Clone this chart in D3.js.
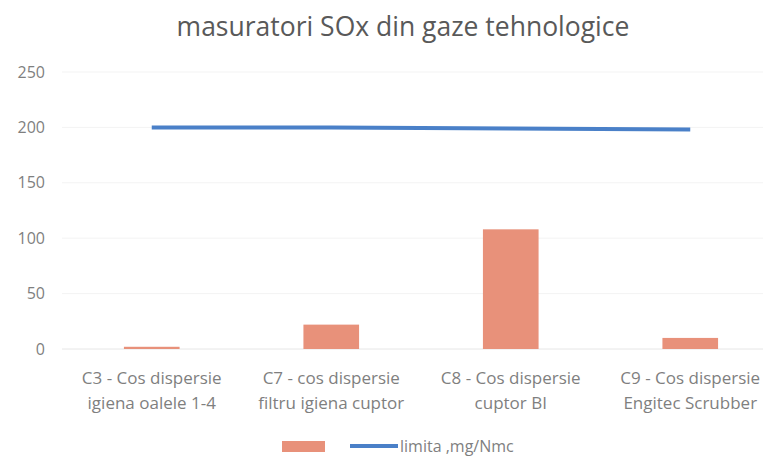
<!DOCTYPE html>
<html>
<head>
<meta charset="utf-8">
<script src="https://cdn.jsdelivr.net/npm/d3@7"></script>
<style>
  body { margin: 0; background: #fff; }
  svg { display: block; font-family: "Open Sans", "Noto Sans", sans-serif; }
</style>
</head>
<body>
<div id="chart"></div>
<script>
const categories = [
  ["C3 - Cos dispersie", "igiena oalele 1-4"],
  ["C7 - cos dispersie", "filtru igiena cuptor"],
  ["C8 - Cos dispersie", "cuptor  BI"],
  ["C9 - Cos dispersie", "Engitec Scrubber"]
];
const measured = [2, 22, 108, 10];
const limit = [200, 200, 199, 198];
const yTicks = [0, 50, 100, 150, 200, 250];
const legendLineLabel = "limita ,mg/Nmc";

const width = 763;
const height = 457;
const margin = { top: 72, right: -17, bottom: 108, left: 62 };

const svg = d3.select("#chart")
              .append("svg")
              .attr("width", width)
              .attr("height", height)
              .style("overflow", "hidden");

const xScale = d3.scaleBand()
                 .domain(d3.range(categories.length))
                 .range([margin.left, width - margin.right])
                 .paddingInner(0.69)
                 .paddingOuter(0.345);

const yScale = d3.scaleLinear()
                 .domain([0, 250])
                 .range([height - margin.bottom, margin.top]);

// title
svg.append("text")
   .attr("x", 403)
   .attr("y", 36)
   .attr("text-anchor", "middle")
   .attr("font-size", 26.5)
   .attr("fill", "#595959")
   .text("masuratori SOx din gaze tehnologice");

// gridlines
svg.selectAll(".grid")
   .data(yTicks)
   .enter()
   .append("line")
   .attr("class", "grid")
   .attr("x1", margin.left)
   .attr("x2", width)
   .attr("y1", d => yScale(d))
   .attr("y2", d => yScale(d))
   .attr("stroke", d => d === 0 ? "#e6e6e6" : "#f3f3f3")
   .attr("stroke-width", 1);

// y axis labels
const yAxis = d3.axisLeft(yScale).tickValues(yTicks).tickSize(0).tickPadding(0);
const yG = svg.append("g")
              .attr("transform", `translate(${margin.left - 17},0)`)
              .call(yAxis);
yG.select(".domain").remove();
yG.selectAll("text")
  .attr("font-size", 16)
  .attr("font-family", "Open Sans, sans-serif")
  .attr("fill", "#7f7f7f");

// bars
svg.selectAll("rect.bar")
   .data(measured)
   .enter()
   .append("rect")
   .attr("class", "bar")
   .attr("x", (d, i) => xScale(i))
   .attr("y", d => yScale(d))
   .attr("width", xScale.bandwidth())
   .attr("height", d => yScale(0) - yScale(d))
   .attr("fill", "#E8917A");

// limit line
const line = d3.line()
               .x((d, i) => xScale(i) + xScale.bandwidth() / 2)
               .y(d => yScale(d));

svg.append("path")
   .datum(limit)
   .attr("d", line)
   .attr("fill", "none")
   .attr("stroke", "#4A80C8")
   .attr("stroke-width", 4);

// x labels
const xLabels = svg.selectAll("text.xlab")
                   .data(categories)
                   .enter()
                   .append("text")
                   .attr("class", "xlab")
                   .attr("text-anchor", "middle")
                   .attr("font-size", 17)
                   .attr("fill", "#7f7f7f");
xLabels.each(function (d, i) {
  const cx = xScale(i) + xScale.bandwidth() / 2;
  d3.select(this)
    .selectAll("tspan")
    .data(d)
    .enter()
    .append("tspan")
    .attr("x", cx)
    .attr("y", (t, j) => 384 + j * 25)
    .text(t => t);
});

// legend
const legend = svg.append("g");
legend.append("rect")
      .attr("x", 282)
      .attr("y", 441)
      .attr("width", 43)
      .attr("height", 11)
      .attr("fill", "#E8917A");
legend.append("line")
      .attr("x1", 350)
      .attr("x2", 398)
      .attr("y1", 446)
      .attr("y2", 446)
      .attr("stroke", "#4A80C8")
      .attr("stroke-width", 4);
legend.append("text")
      .attr("x", 400)
      .attr("y", 452)
      .attr("font-size", 16)
      .attr("fill", "#7f7f7f")
      .text(legendLineLabel);
</script>
</body>
</html>
